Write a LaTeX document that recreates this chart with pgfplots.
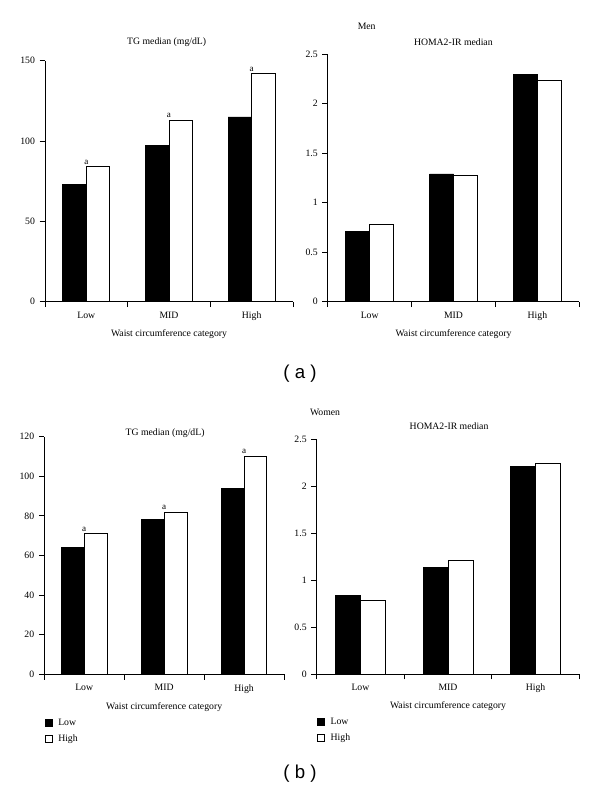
\documentclass[border=0pt]{standalone}
\usepackage{fontspec}
\setmainfont{Liberation Serif}
\newfontfamily\labelfont{Liberation Sans}
\usepackage{pgfplots}
\usepackage{pgfplotstable}
\pgfplotsset{compat=1.18}

\pgfplotstableread{
x low high
1 73 84
2 97 113
3 115 142
}\menTG
\pgfplotstableread{
x low high
1 0.71 0.78
2 1.29 1.27
3 2.29 2.23
}\menHOMA
\pgfplotstableread{
x low high
1 64 71
2 78 82
3 94 110
}\womenTG
\pgfplotstableread{
x low high
1 0.84 0.78
2 1.13 1.21
3 2.21 2.24
}\womenHOMA

\pgfplotsset{
  panel/.style={
    scale only axis,
    xmin=0.5, xmax=3.5, ymin=0,
    axis x line*=bottom, axis y line*=left,
    axis line style={line width=0.6pt, -},
    xtick={0.5,1.5,2.5,3.5}, x tick label as interval, xticklabels={Low,MID,High},
    tick align=outside, major tick length=4pt,
    tick style={line width=0.6pt, black},
    xlabel={Waist circumference category},
    font=\fontsize{7.3}{8.6}\selectfont,
    tick label style={font=\fontsize{7.3}{8.6}\selectfont},
    label style={font=\fontsize{7.3}{8.6}\selectfont},
    /pgf/number format/assume math mode=true,
    clip=false,
    anchor=south west,
    legend image code/.code={\draw[#1] (0pt,-2.7pt) rectangle (5.4pt,2.7pt); \path[draw=none, fill=none] (0pt,0pt) -- (8pt,0pt);},
    legend style={draw=none, fill=none, at={(0,-0.175)}, anchor=north west,
      inner sep=0pt, font=\fontsize{7.3}{8.6}\selectfont, row sep=1.5pt},
    legend cell align=left,
  },
  blackbar/.style={ybar, bar width=0.285, bar shift=-0.1425, fill=black, draw=black, line width=0.6pt},
  whitebar/.style={ybar, bar width=0.285, bar shift=0.1425, fill=white, draw=black, line width=0.6pt},
  amark/.style={nodes near coords={a}, every node near coord/.append style={font=\fontsize{6.8}{7}\selectfont, black, inner sep=1.5pt}},
}

\begin{document}
\begin{tikzpicture}
\useasboundingbox (0,0) rectangle (450pt,-594pt);

% (a) Men, TG
\begin{axis}[panel, at={(33.75pt,-226.3pt)}, width=186pt, height=180.75pt,
  ymax=150, ytick={0,50,100,150}]
  \addplot[blackbar] table[x=x, y=low] {\menTG};
  \addplot[whitebar, amark] table[x=x, y=high] {\menTG};
\end{axis}

% (a) Men, HOMA
\begin{axis}[panel, at={(245.8pt,-226.3pt)}, width=188.7pt, height=185.8pt,
  ymax=2.5, ytick={0,0.5,1,1.5,2,2.5}]
  \addplot[blackbar] table[x=x, y=low] {\menHOMA};
  \addplot[whitebar] table[x=x, y=high] {\menHOMA};
\end{axis}

% (b) Women, TG
\begin{axis}[panel, at={(33.2pt,-505.7pt)}, width=179.8pt, height=178.2pt,
  ymax=120, ytick={0,20,40,60,80,100,120}]
  \addplot[blackbar] table[x=x, y=low] {\womenTG};
  \addlegendentry{Low}
  \addplot[whitebar, amark] table[x=x, y=high] {\womenTG};
  \addlegendentry{High}
\end{axis}

% (b) Women, HOMA
\begin{axis}[panel, at={(237.5pt,-505.5pt)}, width=197pt, height=176.3pt,
  ymax=2.5, ytick={0,0.5,1,1.5,2,2.5}]
  \addplot[blackbar] table[x=x, y=low] {\womenHOMA};
  \addlegendentry{Low}
  \addplot[whitebar] table[x=x, y=high] {\womenHOMA};
  \addlegendentry{High}
\end{axis}

\begin{scope}[every node/.style={font=\fontsize{7.3}{8.6}\selectfont, inner sep=0pt}]
\node at (125pt,-31.5pt) {TG median (mg/dL)};
\node at (340pt,-31.5pt) {HOMA2-IR median};
\node at (275pt,-20pt) {Men};
\node at (123.8pt,-324.8pt) {TG median (mg/dL)};
\node at (336.8pt,-319.5pt) {HOMA2-IR median};
\node at (243.8pt,-309pt) {Women};
\end{scope}
\node[font=\labelfont\fontsize{14}{16}\selectfont, inner sep=0pt] at (225pt,-280pt) {( a )};
\node[font=\labelfont\fontsize{14}{16}\selectfont, inner sep=0pt] at (225pt,-580pt) {( b )};
\end{tikzpicture}
\end{document}
